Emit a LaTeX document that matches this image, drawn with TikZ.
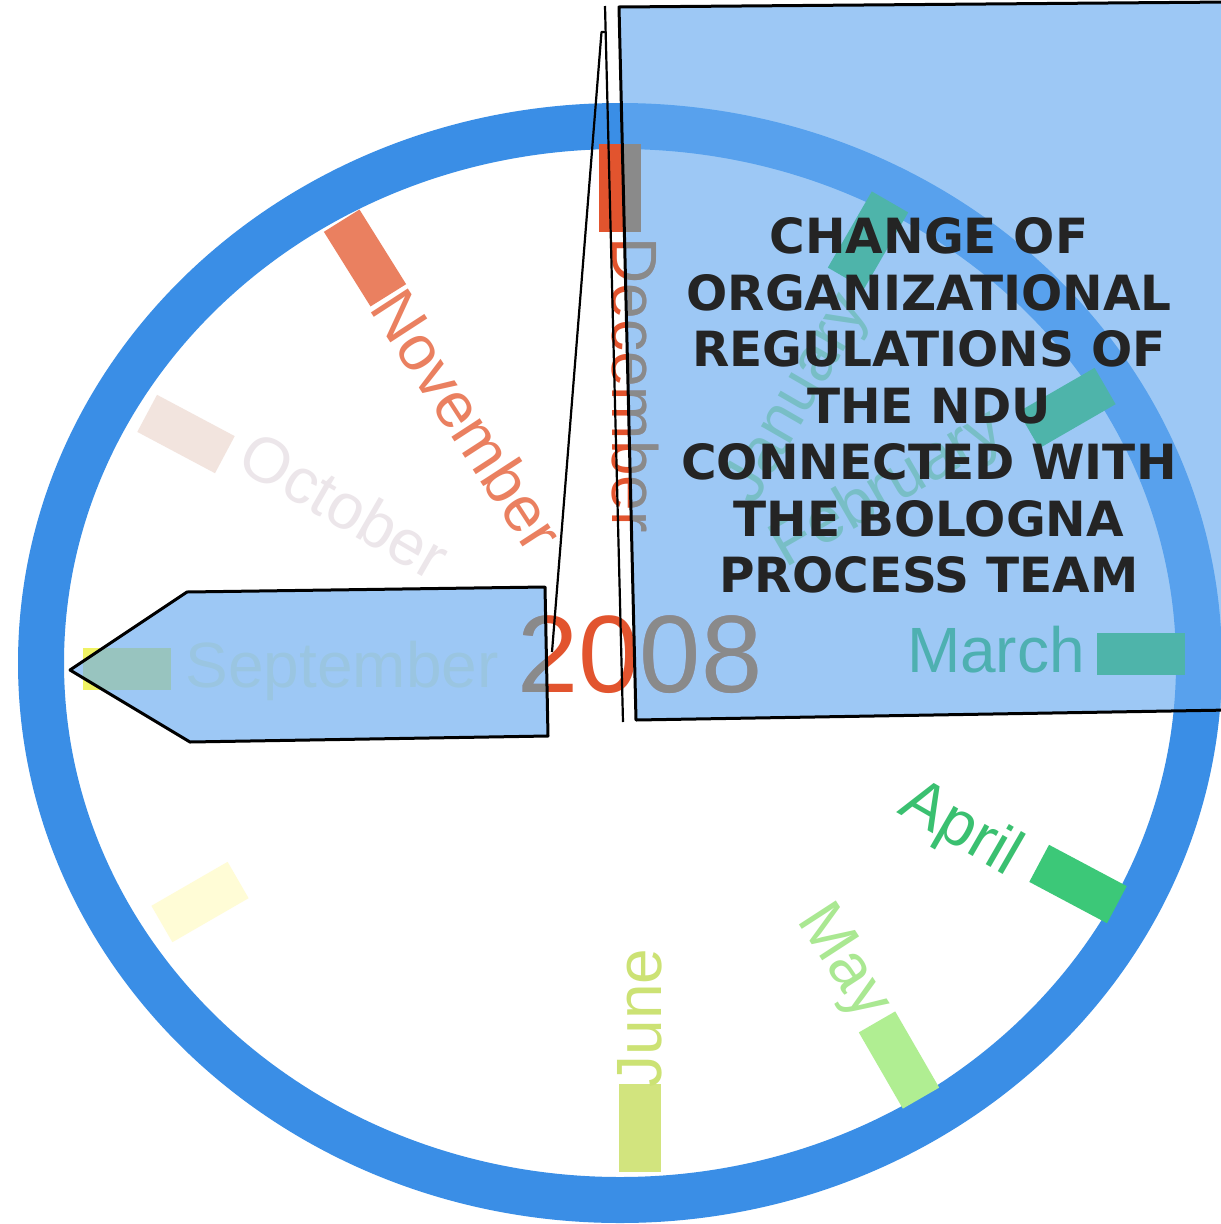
\documentclass[tikz,border=0pt]{standalone}
\usepackage{fontspec}
\setmainfont{Liberation Sans}
\newfontfamily\titlefont{DejaVu Sans}
\definecolor{ringblue}{RGB}{58,142,230}
\definecolor{boxblue}{RGB}{105,172,241}
\definecolor{decred}{RGB}{226,84,46}
\definecolor{grayc}{RGB}{138,138,138}
\definecolor{novc}{RGB}{234,128,96}
\definecolor{octc}{RGB}{236,230,234}
\definecolor{octtick}{RGB}{242,228,222}
\definecolor{sepc}{RGB}{246,246,196}
\definecolor{septick}{RGB}{240,242,100}
\definecolor{augtick}{RGB}{255,252,214}
\definecolor{junc}{RGB}{204,226,116}
\definecolor{juntick}{RGB}{210,228,126}
\definecolor{mayc}{RGB}{170,232,146}
\definecolor{maytick}{RGB}{176,238,146}
\definecolor{aprc}{RGB}{58,192,112}
\definecolor{aprtick}{RGB}{60,200,120}
\definecolor{marc}{RGB}{30,185,60}
\definecolor{martick}{RGB}{30,195,40}
\definecolor{jantick}{RGB}{30,195,40}
\definecolor{janc}{RGB}{150,225,120}
\definecolor{titlec}{RGB}{36,36,36}
\begin{document}
\begin{tikzpicture}[x=1pt,y=-1pt,
  tick/.style={rectangle, inner sep=0pt, minimum width=88pt, minimum height=42pt, draw=none},
  month/.style={inner sep=0pt, font=\fontsize{64}{64}\selectfont},
  yearfont/.style={inner sep=0pt, anchor=base, font=\fontsize{110}{110}\selectfont},
  glass/.style={fill=boxblue, fill opacity=0.65},
  edge/.style={draw=black, line width=3pt, line join=round},
  wire/.style={draw=black, line width=2.2pt, line join=round}]
\useasboundingbox (0,0) rectangle (1221,1224);
\fill[white] (0,0) rectangle (1221,1224);
% coordinates of the shapes
\coordinate (b1) at (619,7);
\coordinate (b2) at (1230,2);
\coordinate (b3) at (1230,710);
\coordinate (b4) at (636,720);
\coordinate (p1) at (70,670);
\coordinate (p2) at (187,592);
\coordinate (p3) at (545,587);
\coordinate (p4) at (548,736);
\coordinate (p5) at (190,742);
\coordinate (la) at (605,6);
\coordinate (lb) at (623,722);
\coordinate (lc) at (606,32);
\coordinate (ld) at (601.5,32);
\coordinate (le) at (552,652);
% clock ring
\draw[ringblue, line width=46pt] (620,663) ellipse [x radius=579, y radius=537];
% ticks
\node[tick, fill=decred, rotate=90] (tdec) at (620,188) {};
\node[tick, fill=jantick, rotate=60] (tjan) at (868,240) {};
\node[tick, fill=jantick, rotate=30] (tfeb) at (1067,408) {};
\node[tick, fill=martick, rotate=0] (tmar) at (1141,654) {};
\node[tick, fill=aprtick, rotate=-28] (tapr) at (1078,884) {};
\node[tick, fill=maytick, rotate=-60] (tmay) at (899,1060) {};
\node[tick, fill=juntick, rotate=90] (tjun) at (640,1128) {};
\node[tick, fill=augtick, rotate=30] (taug) at (200,902) {};
\node[tick, fill=septick, rotate=0] (tsep) at (127,669) {};
\node[tick, fill=octtick, rotate=-28] (toct) at (186,434) {};
\node[tick, fill=novc, rotate=-58] (tnov) at (365,258) {};
% month labels
\node[month, text=decred, rotate=-90] (ldec) at (635,385) {December};
\node[month, text=janc, rotate=60] (ljan) at (798,400) {January};
\node[month, text=janc, rotate=30] (lfeb) at (888,490) {February};
\node[month, text=marc] (lmar) at (996,650) {March};
\node[month, text=aprc, rotate=-30] (lapr) at (960,830) {April};
\node[month, text=mayc, rotate=-57] (lmay) at (842,963) {May};
\node[month, text=junc, rotate=90] (ljun) at (640,1018) {June};
\node[month, text=sepc] (lsep) at (342,671) {September};
\node[month, text=octc, rotate=-30] (loct) at (345,505) {October};
\node[month, text=novc, rotate=-57] (lnov) at (468,420) {November};
\node[yearfont, text=decred] (year) at (640,692) {2008};
% translucent panels
\path[glass] (b1) -- (b2) -- (b3) -- (b4) -- cycle;
\path[glass] (p1) -- (p2) -- (p3) -- (p4) -- (p5) -- cycle;
\begin{scope}
  \clip (b1) -- (b2) -- (b3) -- (b4) -- cycle;
  \node[yearfont, text=grayc] (yearb) at (640,692) {2008};
  \node[tick, fill=grayc, rotate=90] (tdecb) at (620,188) {};
  \node[month, text=grayc, rotate=-90] (ldecb) at (635,385) {December};
\end{scope}
\begin{scope}
  \clip (p1) -- (p2) -- (p3) -- (p4) -- (p5) -- cycle;
  \node[yearfont, text=grayc] (yearp) at (640,692) {2008};
\end{scope}
\path[edge] (b2) -- (b1) -- (b4) -- (b3);
\path[edge] (p1) -- (p2) -- (p3) -- (p4) -- (p5) -- cycle;
% title
\node[font=\titlefont\bfseries\fontsize{48.5}{56.5}\selectfont, text=titlec, align=center, anchor=north, inner sep=0pt] (title) at (929,217.5)
 {CHANGE OF\\ORGANIZATIONAL\\REGULATIONS OF\\THE NDU\\CONNECTED WITH\\THE BOLOGNA\\PROCESS TEAM};
% thin wedge lines
\path[wire] (la) -- (lb);
\path[wire] (lc) -- (ld) -- (le);
\end{tikzpicture}
\end{document}
